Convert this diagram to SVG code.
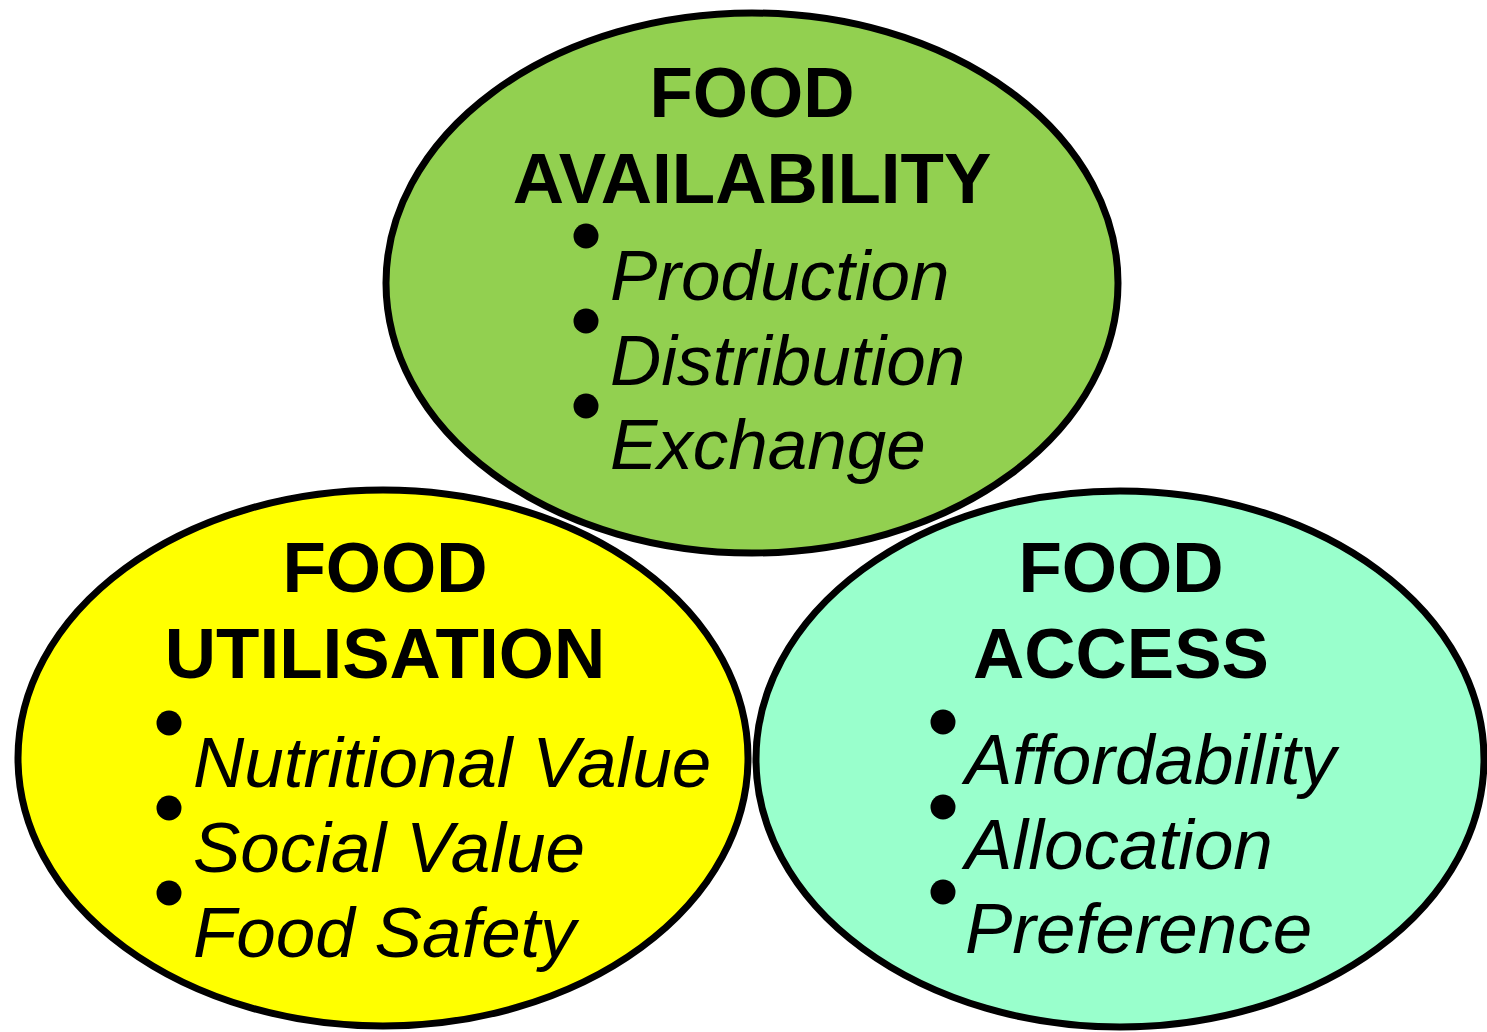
<svg xmlns="http://www.w3.org/2000/svg" width="1487" height="1032" viewBox="0 0 1487 1032">
<style>
.el{stroke:#000;stroke-width:7}
.t{font-family:"Liberation Sans",Arial,sans-serif;font-weight:bold;font-size:71px;text-anchor:middle;fill:#000}
.i{font-family:"Liberation Sans",Arial,sans-serif;font-style:italic;font-size:71px;fill:#000}
.b{fill:#000}
</style>
<rect width="1487" height="1032" fill="#fff"/>
<g id="connectors"></g>
<g id="utilisation">
<ellipse class="el" cx="383" cy="758" rx="365" ry="268" fill="#FFFF00"/>
<text class="t" x="385" y="592">FOOD</text>
<text class="t" x="385" y="678">UTILISATION</text>
<circle class="b" cx="169" cy="723" r="12.5"/>
<circle class="b" cx="169" cy="808" r="12.5"/>
<circle class="b" cx="169" cy="893" r="12.5"/>
<text class="i" x="193" y="787">Nutritional Value</text>
<text class="i" x="193" y="872">Social Value</text>
<text class="i" x="193" y="957">Food Safety</text>
</g>
<g id="access">
<ellipse class="el" cx="1120" cy="759" rx="364" ry="268" fill="#99FFCC"/>
<text class="t" x="1121" y="592">FOOD</text>
<text class="t" x="1121" y="678">ACCESS</text>
<circle class="b" cx="943" cy="722" r="12.5"/>
<circle class="b" cx="943" cy="807" r="12.5"/>
<circle class="b" cx="943" cy="892" r="12.5"/>
<text class="i" x="965" y="784">Affordability</text>
<text class="i" x="965" y="869">Allocation</text>
<text class="i" x="965" y="953">Preference</text>
</g>
<g id="availability">
<ellipse class="el" cx="752" cy="283" rx="366" ry="270" fill="#92D050"/>
<text class="t" x="752" y="117">FOOD</text>
<text class="t" x="752" y="203">AVAILABILITY</text>
<circle class="b" cx="586" cy="236" r="12.5"/>
<circle class="b" cx="586" cy="321" r="12.5"/>
<circle class="b" cx="586" cy="406" r="12.5"/>
<text class="i" x="610" y="300">Production</text>
<text class="i" x="610" y="385">Distribution</text>
<text class="i" x="610" y="469">Exchange</text>
</g>
</svg>
